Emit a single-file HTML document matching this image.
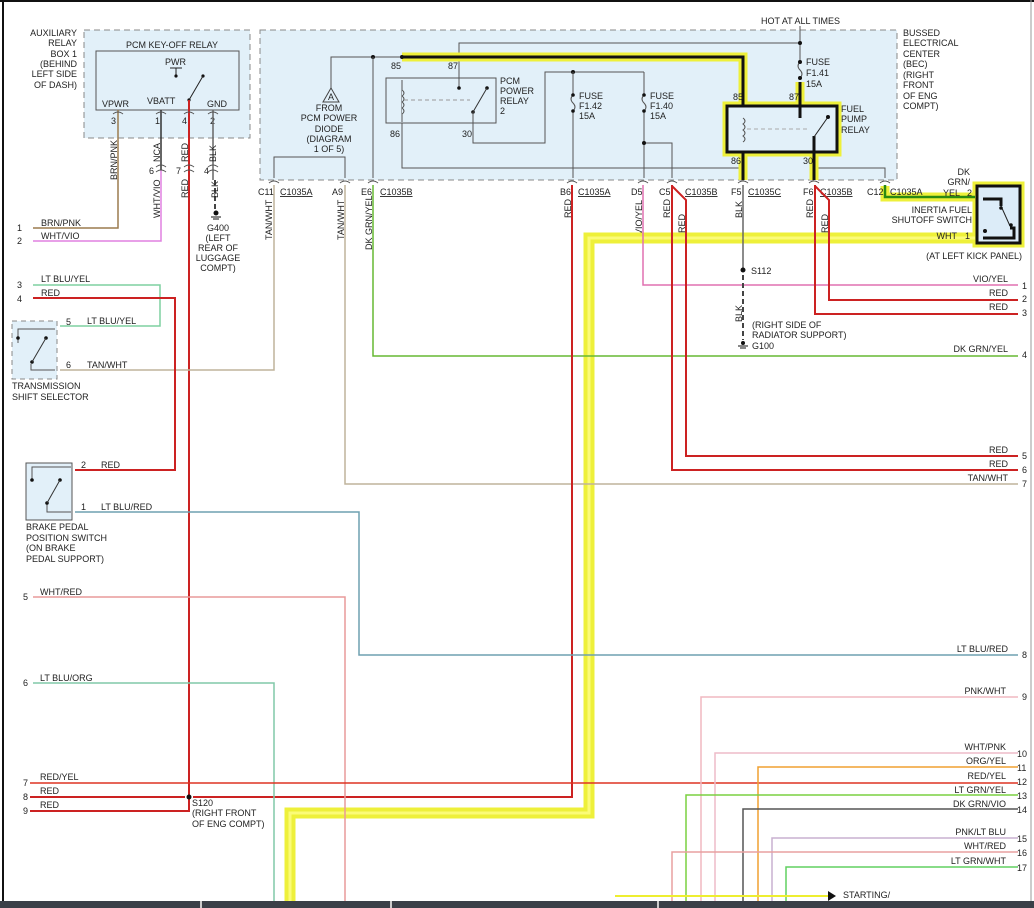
<!DOCTYPE html>
<html><head><meta charset="utf-8"><style>
html,body{margin:0;padding:0;background:#fff;}
svg{display:block;}
text{font-family:"Liberation Sans",sans-serif;font-size:9px;fill:#222;}
.u{text-decoration:underline;}
</style></head><body>
<svg width="1034" height="908" viewBox="0 0 1034 908" xmlns="http://www.w3.org/2000/svg">
<rect width="1034" height="908" fill="#fff"/>
<line x1="3" y1="0" x2="3" y2="908" stroke="#111" stroke-width="2"/>
<line x1="0" y1="1" x2="1034" y2="1" stroke="#111" stroke-width="2"/>
<line x1="1031" y1="0" x2="1031" y2="908" stroke="#999" stroke-width="1"/>

<!-- boxes -->
<rect x="84" y="30" width="166" height="108" fill="#e2f0f9" stroke="#888" stroke-dasharray="6,4"/>
<rect x="96" y="51" width="143" height="59" fill="#e2f0f9" stroke="#555"/>
<rect x="260" y="30" width="637" height="150" fill="#e2f0f9" stroke="#888" stroke-dasharray="6,4"/>
<rect x="386" y="78" width="110" height="45" fill="#e2f0f9" stroke="#555"/>
<rect x="12" y="321" width="45" height="58" fill="#e2f0f9" stroke="#888" stroke-dasharray="5,4"/>
<rect x="26" y="463" width="46" height="57" fill="#e2f0f9" stroke="#555"/>

<!-- aux relay text -->
<g text-anchor="end"><text x="77" y="36">AUXILIARY</text><text x="77" y="46">RELAY</text><text x="77" y="57">BOX 1</text><text x="77" y="67">(BEHIND</text><text x="77" y="77">LEFT SIDE</text><text x="77" y="88">OF DASH)</text></g>
<text x="126" y="48">PCM KEY-OFF RELAY</text>
<text x="165" y="65">PWR</text>
<line x1="170" y1="68" x2="182" y2="68" stroke="#222"/><line x1="176" y1="68" x2="176" y2="76" stroke="#222"/><circle cx="176" cy="76" r="1.6" fill="#111"/>
<circle cx="189" cy="100" r="1.6" fill="#111"/><circle cx="203" cy="76" r="1.6" fill="#111"/><line x1="189" y1="100" x2="203" y2="76" stroke="#222"/>
<text x="102" y="107">VPWR</text><text x="147" y="104">VBATT</text><text x="207" y="107">GND</text>
<text x="111" y="124">3</text><text x="155" y="124">1</text><text x="182" y="124">4</text><text x="210" y="124">2</text>

<!-- aux wires -->
<polyline points="118,110 118,228 33,228" fill="none" stroke="#9b7c4f" stroke-width="1.5"/>
<polyline points="161,110 161,170" fill="none" stroke="#333" stroke-width="1.5"/>
<polyline points="161,170 161,241 33,241" fill="none" stroke="#e080e0" stroke-width="1.5"/>
<line x1="189" y1="100" x2="189" y2="800" stroke="#cc2222" stroke-width="2"/>
<line x1="213" y1="110" x2="213" y2="180" stroke="#666" stroke-width="1.5"/>
<line x1="215" y1="180" x2="215" y2="210" stroke="#444" stroke-width="2" stroke-dasharray="5,3"/>
<circle cx="216" cy="213" r="2.5" fill="#111"/><line x1="211" y1="217" x2="221" y2="217" stroke="#111"/><line x1="213" y1="219" x2="219" y2="219" stroke="#111"/>
<g font-size="9"><text x="149" y="174">6</text><text x="176" y="174">7</text><text x="204" y="174">4</text></g>
<g fill="none" stroke="#555"><path d="M156,167 q5,-4 10,0 M156,172 q5,-4 10,0 M184,167 q5,-4 10,0 M184,172 q5,-4 10,0 M208,167 q5,-4 10,0 M208,172 q5,-4 10,0 M113,114 q5,-4 10,0 M156,114 q5,-4 10,0 M184,114 q5,-4 10,0 M208,114 q5,-4 10,0"/></g>
<g text-anchor="middle"><text x="218" y="231">G400</text><text x="218" y="241">(LEFT</text><text x="218" y="251">REAR OF</text><text x="218" y="261">LUGGAGE</text><text x="218" y="271">COMPT)</text></g>
<g>
<text transform="translate(117,180) rotate(-90)">BRN/PNK</text>
<text transform="translate(160,162) rotate(-90)">NCA</text>
<text transform="translate(188,162) rotate(-90)">RED</text>
<text transform="translate(216,162) rotate(-90)">BLK</text>
<text transform="translate(160,218) rotate(-90)">WHT/VIO</text>
<text transform="translate(188,198) rotate(-90)">RED</text>
<text transform="translate(218,198) rotate(-90)">BLK</text>
<text transform="translate(272,240) rotate(-90)">TAN/WHT</text>
<text transform="translate(344,240) rotate(-90)">TAN/WHT</text>
<text transform="translate(372,250) rotate(-90)">DK GRN/YEL</text>
<text transform="translate(571,218) rotate(-90)">RED</text>
<text transform="translate(642,235) rotate(-90)">VIO/YEL</text>
<text transform="translate(670,218) rotate(-90)">RED</text>
<text transform="translate(685,233) rotate(-90)">RED</text>
<text transform="translate(742,218) rotate(-90)">BLK</text>
<text transform="translate(813,218) rotate(-90)">RED</text>
<text transform="translate(828,233) rotate(-90)">RED</text>
<text transform="translate(742,322) rotate(-90)">BLK</text>
</g>

<!-- BEC internals -->
<line x1="800" y1="26" x2="800" y2="62" stroke="#555"/>
<text x="761" y="24">HOT AT ALL TIMES</text>
<polyline points="459,72 459,43 800,43" fill="none" stroke="#555"/>
<circle cx="800" cy="43" r="2" fill="#111"/>
<path d="M800,62 q-4,4 0,8 q4,4 0,8" fill="none" stroke="#555"/>
<circle cx="800" cy="62" r="2" fill="#111"/><circle cx="800" cy="78" r="2" fill="#111"/>
<text x="806" y="65">FUSE</text><text x="806" y="76">F1.41</text><text x="806" y="87">15A</text>
<polyline points="331,88 331,57 402,57" fill="none" stroke="#555"/>
<circle cx="373" cy="57" r="2" fill="#111"/>
<polygon points="331,88 323,102 339,102" fill="#e2f0f9" stroke="#444"/><text x="331" y="100" font-size="8" text-anchor="middle">A</text>
<g text-anchor="middle"><text x="329" y="111">FROM</text><text x="329" y="121">PCM POWER</text><text x="329" y="132">DIODE</text><text x="329" y="142">(DIAGRAM</text><text x="329" y="152">1 OF 5)</text></g>
<polyline points="274,178 274,157 345,157 345,178" fill="none" stroke="#555"/>
<line x1="373" y1="57" x2="373" y2="178" stroke="#555"/>
<!-- PCM power relay -->
<line x1="459" y1="72" x2="459" y2="88" stroke="#555"/><circle cx="459" cy="88" r="1.8" fill="#111"/>
<line x1="402" y1="80" x2="402" y2="122" stroke="#555"/>
<path d="M402,90 q4,3 0,6 q4,3 0,6 q4,3 0,6 q4,3 0,6" fill="#e2f0f9" stroke="#555"/>
<line x1="404" y1="100" x2="470" y2="100" stroke="#999" stroke-dasharray="4,3"/>
<circle cx="473" cy="112" r="1.8" fill="#111"/><circle cx="487" cy="88" r="1.8" fill="#111"/><line x1="473" y1="112" x2="487" y2="88" stroke="#333"/>
<text x="391" y="69">85</text><text x="448" y="69">87</text><text x="390" y="137">86</text><text x="462" y="137">30</text>
<text x="500" y="84">PCM</text><text x="500" y="94">POWER</text><text x="500" y="104">RELAY</text><text x="500" y="114">2</text>
<polyline points="402,123 402,168 743,168" fill="none" stroke="#555"/>
<polyline points="473,112 473,143 545,143 545,72 644,72" fill="none" stroke="#555"/>
<circle cx="573" cy="72" r="2" fill="#111"/>
<g fill="none" stroke="#555">
<line x1="573" y1="72" x2="573" y2="95"/><path d="M573,95 q-4,4 0,8 q4,4 0,8"/><line x1="573" y1="111" x2="573" y2="178"/>
<line x1="644" y1="72" x2="644" y2="95"/><path d="M644,95 q-4,4 0,8 q4,4 0,8"/><line x1="644" y1="111" x2="644" y2="178"/>
<polyline points="644,143 672,143 672,178"/>
<polyline points="814,168 885,168 885,178"/>
</g>
<circle cx="573" cy="95" r="1.8" fill="#111"/><circle cx="573" cy="111" r="1.8" fill="#111"/>
<circle cx="644" cy="95" r="1.8" fill="#111"/><circle cx="644" cy="111" r="1.8" fill="#111"/><circle cx="644" cy="143" r="2" fill="#111"/>
<text x="579" y="99">FUSE</text><text x="579" y="109">F1.42</text><text x="579" y="119">15A</text>
<text x="650" y="99">FUSE</text><text x="650" y="109">F1.40</text><text x="650" y="119">15A</text>
<g text-anchor="start"><text x="903" y="36">BUSSED</text><text x="903" y="46">ELECTRICAL</text><text x="903" y="57">CENTER</text><text x="903" y="67">(BEC)</text><text x="903" y="78">(RIGHT</text><text x="903" y="88">FRONT</text><text x="903" y="99">OF ENG</text><text x="903" y="109">COMPT)</text></g>

<!-- highlighted fuel pump relay path -->
<g stroke="#eef03a" stroke-width="9" fill="none" stroke-linejoin="miter">
<polyline points="402,57 743,57 743,180"/>
<line x1="800" y1="82" x2="800" y2="118"/><line x1="814" y1="136" x2="814" y2="180"/>
<rect x="727" y="106" width="110" height="46"/>
<polyline points="885,186 885,197 975,197"/>
<rect x="977" y="186" width="43" height="57"/>
<polyline points="975,238 589,238 589,813 290,813 290,908" stroke-width="11"/>
</g>
<polyline points="975,238 589,238 589,813 290,813 290,908" fill="none" stroke="#fbfb78" stroke-width="3"/>
<rect x="727" y="106" width="110" height="46" fill="#e2f0f9" stroke="#111" stroke-width="3"/>
<rect x="977" y="186" width="43" height="57" fill="#dcecf8" stroke="#111" stroke-width="3"/>
<g stroke="#111" stroke-width="3" fill="none">
<polyline points="402,57 743,57 743,106"/><line x1="743" y1="152" x2="743" y2="180"/>
<line x1="800" y1="82" x2="800" y2="118"/><line x1="814" y1="136" x2="814" y2="180"/>
<polyline points="983,199 1001,199 1001,206"/><polyline points="1010,228 1014,228 1014,238 983,238"/>
</g>
<circle cx="402" cy="57" r="2" fill="#111"/>
<path d="M743,118 q4,3 0,6 q4,3 0,6 q4,3 0,6 q4,3 0,6" fill="#e2f0f9" stroke="#555"/>
<line x1="747" y1="129" x2="808" y2="129" stroke="#aaa" stroke-dasharray="4,3"/>
<line x1="814" y1="137" x2="828" y2="117" stroke="#222"/><circle cx="828" cy="117" r="2" fill="#111"/>
<line x1="1001" y1="206" x2="1010" y2="226" stroke="#222"/><circle cx="1001" cy="208" r="1.8" fill="#111"/><circle cx="1011" cy="225" r="1.8" fill="#111"/><circle cx="985" cy="231" r="2" fill="#111"/>
<text x="733" y="100">85</text><text x="789" y="100">87</text><text x="731" y="164">86</text><text x="803" y="164">30</text>
<text x="841" y="112">FUEL</text><text x="841" y="122">PUMP</text><text x="841" y="133">RELAY</text>

<!-- connectors -->
<g fill="none" stroke="#555">
<path d="M269,183 q5,-4 10,0 M340,183 q5,-4 10,0 M368,183 q5,-4 10,0 M567,183 q5,-4 10,0 M638,183 q5,-4 10,0 M667,183 q5,-4 10,0 M738,183 q5,-4 10,0 M809,183 q5,-4 10,0 M880,183 q5,-4 10,0"/>
</g>
<text x="258" y="195">C11</text><text x="280" y="195" class="u">C1035A</text>
<text x="332" y="195">A9</text><text x="361" y="195">E6</text><text x="380" y="195" class="u">C1035B</text>
<text x="560" y="195">B6</text><text x="578" y="195" class="u">C1035A</text>
<text x="631" y="195">D5</text><text x="659" y="195">C5</text><text x="685" y="195" class="u">C1035B</text>
<text x="731" y="195">F5</text><text x="748" y="195" class="u">C1035C</text>
<text x="803" y="195">F6</text><text x="820" y="195" class="u">C1035B</text>
<text x="867" y="195">C12</text><text x="890" y="195" class="u">C1035A</text>

<!-- lower wires -->
<g fill="none" stroke-width="1.5">
<polyline points="274,185 274,370 60,370" stroke="#bfb39b"/>
<polyline points="345,185 345,484 1018,484" stroke="#bfb39b"/>
<polyline points="373,185 373,356 1018,356" stroke="#66b832"/>
<polyline points="572,185 572,797 193,797" stroke="#cc2222" stroke-width="2"/>
<polyline points="643,185 643,285 1018,285" stroke="#e070b0"/>
<polyline points="672,185 672,470 1018,470" stroke="#cc2222" stroke-width="2"/>
<polyline points="672,186 686,200 686,456 1018,456" stroke="#cc2222" stroke-width="2"/>
<line x1="743" y1="185" x2="743" y2="270" stroke="#666"/>
<line x1="743" y1="275" x2="743" y2="340" stroke="#444" stroke-width="2" stroke-dasharray="5,3"/>
<polyline points="815,185 815,314 1018,314" stroke="#cc2222" stroke-width="2"/>
<polyline points="815,186 829,200 829,300 1018,300" stroke="#cc2222" stroke-width="2"/>
<polyline points="885,185 885,197 975,197" stroke="#2a8a10" stroke-width="2.5"/>
<polyline points="33,285 160,285 160,326 60,326" stroke="#7ed0a0"/>
<polyline points="33,298 175,298 175,470 75,470" stroke="#cc2222" stroke-width="2"/>
<polyline points="75,512 359,512 359,655 1018,655" stroke="#6fa0b0"/>
<polyline points="33,597 345,597 345,908" stroke="#e89a9a"/>
<polyline points="33,683 274,683 274,908" stroke="#80c8a8"/>
<line x1="30" y1="783" x2="1018" y2="783" stroke="#dd3322"/>
<line x1="30" y1="797" x2="185" y2="797" stroke="#cc2222" stroke-width="2"/>
<polyline points="30,811 189,811 189,797" stroke="#cc2222" stroke-width="2"/>
<polyline points="701,908 701,697 1018,697" stroke="#f0b8c0"/>
<polyline points="715,908 715,753 1018,753" stroke="#eebcc8"/>
<polyline points="758,908 758,767 1018,767" stroke="#f0a030"/>
<polyline points="686,908 686,795 1018,795" stroke="#7ad040"/>
<polyline points="743,908 743,809 1018,809" stroke="#555"/>
<polyline points="772,908 772,838 1018,838" stroke="#c8b0d0"/>
<polyline points="672,908 672,852 1018,852" stroke="#e8a0a0"/>
<polyline points="786,908 786,867 1018,867" stroke="#60d060"/>
<line x1="615" y1="896" x2="828" y2="896" stroke="#eeee30" stroke-width="2"/>
</g>
<polygon points="828,891 836,896 828,901" fill="#111"/>
<text x="843" y="898">STARTING/</text>
<circle cx="189" cy="797" r="2.5" fill="#111"/>
<text x="192" y="806">S120</text><text x="192" y="816">(RIGHT FRONT</text><text x="192" y="827">OF ENG COMPT)</text>
<circle cx="743" cy="270" r="2.5" fill="#111"/><text x="751" y="274">S112</text>
<text x="752" y="328">(RIGHT SIDE OF</text><text x="752" y="338">RADIATOR SUPPORT)</text>
<circle cx="743" cy="343" r="2" fill="#111"/><line x1="738" y1="346" x2="748" y2="346" stroke="#111"/><line x1="740" y1="348" x2="746" y2="348" stroke="#111"/>
<text x="752" y="349">G100</text>

<!-- switches -->
<polyline points="18,343 18,329 55,329" fill="none" stroke="#555"/><polyline points="31,364 31,370 55,370" fill="none" stroke="#555"/>
<circle cx="18" cy="338" r="1.8" fill="#111"/><circle cx="46" cy="338" r="1.8" fill="#111"/><circle cx="32" cy="362" r="1.8" fill="#111"/><line x1="32" y1="362" x2="46" y2="338" stroke="#333"/>
<polyline points="32,480 32,467 71,467" fill="none" stroke="#555"/><polyline points="47,504 47,512 71,512" fill="none" stroke="#555"/>
<circle cx="32" cy="480" r="1.8" fill="#111"/><circle cx="60" cy="480" r="1.8" fill="#111"/><circle cx="47" cy="503" r="1.8" fill="#111"/><line x1="47" y1="503" x2="60" y2="480" stroke="#333"/>
<text x="12" y="389">TRANSMISSION</text><text x="12" y="400">SHIFT SELECTOR</text>
<text x="26" y="530">BRAKE PEDAL</text><text x="26" y="541">POSITION SWITCH</text><text x="26" y="551">(ON BRAKE</text><text x="26" y="562">PEDAL SUPPORT)</text>

<!-- left labels -->
<text x="17" y="231">1</text><text x="41" y="226">BRN/PNK</text>
<text x="17" y="244">2</text><text x="41" y="239">WHT/VIO</text>
<text x="17" y="288">3</text><text x="41" y="282">LT BLU/YEL</text>
<text x="17" y="302">4</text><text x="41" y="296">RED</text>
<text x="66" y="325">5</text><text x="87" y="324">LT BLU/YEL</text>
<text x="66" y="368">6</text><text x="87" y="368">TAN/WHT</text>
<text x="81" y="468">2</text><text x="101" y="468">RED</text>
<text x="81" y="510">1</text><text x="101" y="510">LT BLU/RED</text>
<text x="23" y="600">5</text><text x="40" y="595">WHT/RED</text>
<text x="23" y="686">6</text><text x="40" y="681">LT BLU/ORG</text>
<text x="23" y="786">7</text><text x="40" y="780">RED/YEL</text>
<text x="23" y="800">8</text><text x="40" y="794">RED</text>
<text x="23" y="814">9</text><text x="40" y="808">RED</text>

<!-- right labels -->
<g text-anchor="end">
<text x="970" y="175">DK</text><text x="970" y="185">GRN/</text><text x="960" y="196">YEL</text><text x="972" y="196">2</text>
<text x="972" y="213">INERTIA FUEL</text><text x="972" y="223">SHUTOFF SWITCH</text>
<text x="957" y="239">WHT</text><text x="970" y="239">1</text>
<text x="1022" y="259">(AT LEFT KICK PANEL)</text>
<text x="1008" y="282">VIO/YEL</text><text x="1008" y="296">RED</text><text x="1008" y="310">RED</text>
<text x="1008" y="352">DK GRN/YEL</text>
<text x="1008" y="453">RED</text><text x="1008" y="467">RED</text><text x="1008" y="481">TAN/WHT</text>
<text x="1008" y="652">LT BLU/RED</text>
<text x="1006" y="694">PNK/WHT</text>
<text x="1006" y="750">WHT/PNK</text><text x="1006" y="764">ORG/YEL</text><text x="1006" y="779">RED/YEL</text>
<text x="1006" y="793">LT GRN/YEL</text><text x="1006" y="807">DK GRN/VIO</text>
<text x="1006" y="835">PNK/LT BLU</text><text x="1006" y="849">WHT/RED</text><text x="1006" y="864">LT GRN/WHT</text>
</g>
<g>
<text x="1022" y="289">1</text><text x="1022" y="302">2</text><text x="1022" y="316">3</text><text x="1022" y="358">4</text>
<text x="1022" y="459">5</text><text x="1022" y="473">6</text><text x="1022" y="487">7</text><text x="1022" y="658">8</text>
<text x="1022" y="700">9</text><text x="1017" y="757">10</text><text x="1017" y="771">11</text><text x="1017" y="785">12</text>
<text x="1017" y="799">13</text><text x="1017" y="813">14</text><text x="1017" y="842">15</text><text x="1017" y="856">16</text><text x="1017" y="871">17</text>
</g>

<!-- bottom bar -->
<rect x="0" y="901" width="1034" height="7" fill="#3b4048"/>
<rect x="200" y="901" width="2" height="7" fill="#ccc"/><rect x="390" y="901" width="2" height="7" fill="#ccc"/><rect x="657" y="901" width="2" height="7" fill="#ccc"/>
</svg>
</body></html>
